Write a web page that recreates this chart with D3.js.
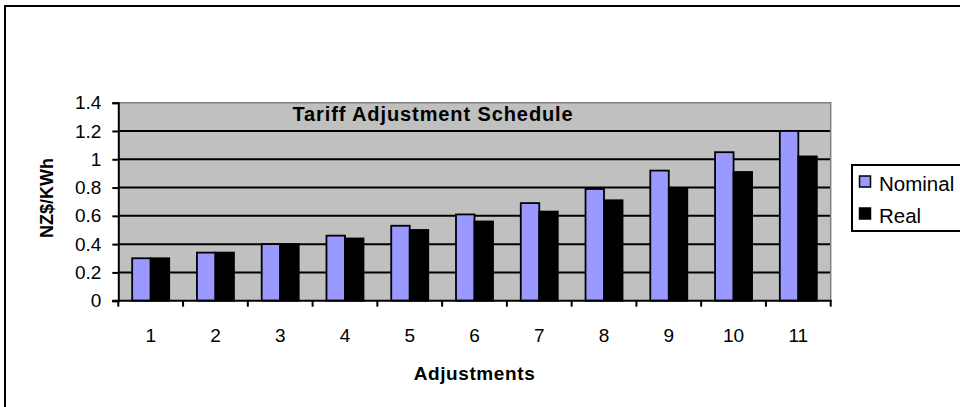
<!DOCTYPE html>
<html>
<head>
<meta charset="utf-8">
<script src="https://cdn.jsdelivr.net/npm/d3@7"></script>
<style>
  html, body { margin: 0; padding: 0; background: #fff; }
  svg { display: block; font-family: "Liberation Sans", Arial, sans-serif; }
</style>
</head>
<body>
<svg id="chart" width="960" height="407"></svg>
<script>
// Tariff schedule, NZ$ per kWh for each adjustment step
const categories = ["1", "2", "3", "4", "5", "6", "7", "8", "9", "10", "11"];
const nominal = [0.30, 0.34, 0.40, 0.46, 0.53, 0.61, 0.69, 0.79, 0.92, 1.05, 1.20];
const real    = [0.30, 0.34, 0.40, 0.44, 0.50, 0.56, 0.63, 0.71, 0.79, 0.91, 1.02];
const seriesNames = ["Nominal", "Real"];
const seriesColors = ["#9999FF", "#000000"];
const yTickValues = [0, 0.2, 0.4, 0.6, 0.8, 1, 1.2, 1.4];
const yTickLabels = ["0", "0.2", "0.4", "0.6", "0.8", "1", "1.2", "1.4"];

const svg = d3.select("#chart");
const plot = { left: 118.3, right: 830.7, top: 102.7, bottom: 300.7 };

// outer chart frame (runs past the right and bottom edges)
svg.append("rect")
  .attr("x", 5).attr("y", 6).attr("width", 1000).attr("height", 500)
  .attr("fill", "#fff").attr("stroke", "#000").attr("stroke-width", 2);

const x = d3.scaleBand()
  .domain(categories)
  .range([plot.left, plot.right])
  .paddingInner(1.5 / 3.5)
  .paddingOuter(0.75 / 3.5);
const xs = d3.scaleBand().domain(seriesNames).range([0, x.bandwidth()]).padding(0);
const y = d3.scaleLinear().domain([0, 1.4]).range([plot.bottom, plot.top]);

// plot area
svg.append("rect")
  .attr("x", plot.left).attr("y", plot.top)
  .attr("width", plot.right - plot.left).attr("height", plot.bottom - plot.top)
  .attr("fill", "#C0C0C0");

// horizontal gridlines
svg.append("g").selectAll("line")
  .data(yTickValues.filter(v => v > 0 && v < 1.4))
  .join("line")
  .attr("x1", plot.left).attr("x2", plot.right)
  .attr("y1", d => y(d)).attr("y2", d => y(d))
  .attr("stroke", "#000").attr("stroke-width", 2);

// plot border top and right
svg.append("path")
  .attr("d", `M${plot.left},${plot.top}H${plot.right}V${plot.bottom}`)
  .attr("fill", "none").attr("stroke", "#808080").attr("stroke-width", 1.5);

// title inside the plot area
svg.append("text")
  .attr("x", 433).attr("y", 120.5)
  .attr("text-anchor", "middle")
  .attr("font-size", 20).attr("font-weight", "bold")
  .attr("letter-spacing", 0.9)
  .text("Tariff Adjustment Schedule");

// bars
const rows = categories.map((c, i) => ({ cat: c, values: [nominal[i], real[i]] }));
const groups = svg.append("g").selectAll("g")
  .data(rows).join("g")
  .attr("transform", d => `translate(${x(d.cat)},0)`);
groups.selectAll("rect")
  .data(d => d.values.map((v, j) => ({ name: seriesNames[j], value: v, color: seriesColors[j] })))
  .join("rect")
  .attr("x", d => xs(d.name))
  .attr("width", xs.bandwidth())
  .attr("y", d => y(d.value))
  .attr("height", d => y(0) - y(d.value))
  .attr("fill", d => d.color)
  .attr("stroke", "#000").attr("stroke-width", 1.8);

// y axis
const yAxis = svg.append("g")
  .attr("transform", `translate(${plot.left},0)`)
  .call(d3.axisLeft(y).tickValues(yTickValues)
    .tickFormat((d, i) => yTickLabels[i]).tickSize(6).tickPadding(11));
yAxis.select(".domain").attr("stroke", "#000").attr("stroke-width", 2);
yAxis.selectAll(".tick line").attr("stroke", "#000").attr("stroke-width", 2);
yAxis.selectAll(".tick text")
  .attr("font-size", 19).attr("fill", "#000")
  .attr("font-family", "Liberation Sans, Arial, sans-serif");

// x axis: line, ticks between categories, labels centred in each band
const step = x.step();
const boundaries = categories.map(c => x(c) + x.bandwidth() / 2 - step / 2)
  .concat([x(categories[categories.length - 1]) + x.bandwidth() / 2 + step / 2]);
const xAxis = svg.append("g");
xAxis.append("line")
  .attr("x1", plot.left - 6).attr("x2", plot.right + 1)
  .attr("y1", plot.bottom).attr("y2", plot.bottom)
  .attr("stroke", "#000").attr("stroke-width", 2);
xAxis.selectAll("line.tk").data(boundaries).join("line")
  .attr("class", "tk")
  .attr("x1", d => d).attr("x2", d => d)
  .attr("y1", plot.bottom).attr("y2", plot.bottom + 6)
  .attr("stroke", "#000").attr("stroke-width", 2);
xAxis.selectAll("text").data(categories).join("text")
  .attr("x", d => x(d) + x.bandwidth() / 2)
  .attr("y", 341.5)
  .attr("text-anchor", "middle")
  .attr("font-size", 19)
  .text(d => d);

// axis titles
svg.append("text")
  .attr("x", (plot.left + plot.right) / 2).attr("y", 380)
  .attr("text-anchor", "middle")
  .attr("font-size", 19).attr("font-weight", "bold")
  .attr("letter-spacing", 0.6)
  .text("Adjustments");
svg.append("text")
  .attr("transform", "translate(53,198) rotate(-90)")
  .attr("text-anchor", "middle")
  .attr("font-size", 18).attr("font-weight", "bold")
  .text("NZ$/KWh");

// legend
const legend = svg.append("g");
legend.append("rect")
  .attr("x", 852).attr("y", 165).attr("width", 140).attr("height", 66)
  .attr("fill", "#fff").attr("stroke", "#000").attr("stroke-width", 2);
const items = legend.selectAll("g").data(seriesNames).join("g")
  .attr("transform", (d, i) => `translate(0,${i * 32})`);
items.append("rect")
  .attr("x", 859.5).attr("y", 176).attr("width", 11).attr("height", 11)
  .attr("fill", (d, i) => seriesColors[i])
  .attr("stroke", "#000").attr("stroke-width", 1.5);
items.append("text")
  .attr("x", 879).attr("y", 191)
  .attr("font-size", 20.5)
  .text(d => d);
</script>
</body>
</html>
